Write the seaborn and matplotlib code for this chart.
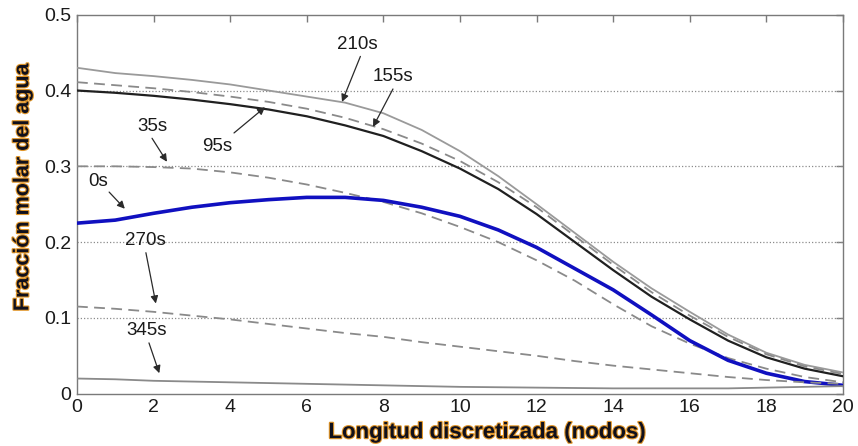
import numpy as np
import pandas as pd
import matplotlib
matplotlib.use("Agg")
import matplotlib.pyplot as plt
import matplotlib.patheffects as pe
import seaborn as sns

nodes = list(range(21))
y_210s = [0.430, 0.423, 0.419, 0.414, 0.408, 0.400, 0.392, 0.384, 0.370, 0.348, 0.320,
          0.287, 0.250, 0.212, 0.174, 0.139, 0.108, 0.078, 0.054, 0.038, 0.028]
y_155s = [0.411, 0.407, 0.403, 0.398, 0.392, 0.385, 0.376, 0.364, 0.349, 0.330, 0.307,
          0.279, 0.246, 0.208, 0.170, 0.134, 0.103, 0.075, 0.052, 0.036, 0.026]
y_95s = [0.400, 0.397, 0.393, 0.388, 0.382, 0.375, 0.366, 0.354, 0.340, 0.320, 0.297,
         0.270, 0.237, 0.200, 0.163, 0.128, 0.098, 0.070, 0.048, 0.033, 0.023]
y_35s = [0.300, 0.300, 0.299, 0.297, 0.292, 0.285, 0.276, 0.265, 0.253, 0.238, 0.220,
         0.200, 0.176, 0.149, 0.118, 0.089, 0.066, 0.047, 0.033, 0.022, 0.015]
y_0s = [0.225, 0.229, 0.238, 0.246, 0.252, 0.256, 0.259, 0.259, 0.255, 0.246, 0.234,
        0.216, 0.193, 0.165, 0.137, 0.104, 0.070, 0.044, 0.027, 0.016, 0.011]
y_270s = [0.115, 0.112, 0.108, 0.103, 0.098, 0.092, 0.086, 0.080, 0.075, 0.068, 0.062,
          0.056, 0.050, 0.043, 0.037, 0.032, 0.027, 0.022, 0.018, 0.015, 0.013]
y_345s = [0.020, 0.019, 0.017, 0.016, 0.015, 0.014, 0.013, 0.012, 0.011, 0.010, 0.009,
          0.0085, 0.008, 0.0075, 0.007, 0.007, 0.007, 0.007, 0.008, 0.009, 0.010]

series_names = ["210s", "155s", "95s", "35s", "0s", "270s", "345s"]
series_values = [y_210s, y_155s, y_95s, y_35s, y_0s, y_270s, y_345s]

x_ticks = [0, 2, 4, 6, 8, 10, 12, 14, 16, 18, 20]
y_ticks = [0, 0.1, 0.2, 0.3, 0.4, 0.5]
y_tick_labels = ["0", "0.1", "0.2", "0.3", "0.4", "0.5"]

# annotation: label, text pos, arrow tail, arrow head (data coords)
annots = [
    ("210s", (7.31, 0.461), (7.40, 0.445), (6.92, 0.385)),
    ("155s", (8.25, 0.418), (8.25, 0.402), (7.73, 0.352)),
    ("95s", (3.66, 0.326), (4.10, 0.344), (4.91, 0.378)),
    ("35s", (1.96, 0.352), (1.96, 0.337), (2.35, 0.306)),
    ("0s", (0.55, 0.280), (0.84, 0.266), (1.25, 0.244)),
    ("270s", (1.78, 0.2015), (1.80, 0.186), (2.06, 0.119)),
    ("345s", (1.83, 0.083), (1.88, 0.067), (2.15, 0.027)),
]

styles = {
    "210s": dict(color="#9a9a9a", lw=1.3, ls="-"),
    "155s": dict(color="#8a8a8a", lw=1.3, ls=(0, (6, 3.5))),
    "95s": dict(color="#202020", lw=1.6, ls="-"),
    "35s": dict(color="#8a8a8a", lw=1.3, ls=(0, (6, 3.5))),
    "0s": dict(color="#1010c0", lw=2.6, ls="-"),
    "270s": dict(color="#8a8a8a", lw=1.3, ls=(0, (6, 3.5))),
    "345s": dict(color="#8a8a8a", lw=1.3, ls="-"),
}

df = pd.DataFrame({
    "nodo": np.tile(nodes, len(series_names)),
    "fraccion": np.concatenate(series_values),
    "serie": np.repeat(series_names, len(nodes)),
})

sns.set_style("white")
plt.rcParams["font.family"] = ["Liberation Sans", "DejaVu Sans"]

fig = plt.figure(figsize=(8.58, 4.46), dpi=100)
ax = fig.add_axes([0.0897, 0.1173, 0.8928, 0.8497])

for name in series_names:
    st = styles[name]
    sns.lineplot(data=df[df["serie"] == name], x="nodo", y="fraccion", ax=ax,
                 color=st["color"], linewidth=st["lw"], linestyle=st["ls"],
                 legend=False, zorder=3)

ax.set_xlim(0, 20)
ax.set_ylim(0, 0.5)
ax.set_xticks(x_ticks)
ax.set_xticklabels([str(t) for t in x_ticks])
ax.set_yticks(y_ticks)
ax.set_yticklabels(y_tick_labels)

for yv in y_ticks[1:-1]:
    ax.axhline(yv, color="#8c8c8c", lw=0.9, ls=(0, (1, 1.6)), zorder=1)

for s in ax.spines.values():
    s.set_visible(True)
    s.set_color("#7a7a7a")
    s.set_linewidth(1.0)

ax.tick_params(axis="both", direction="in", length=5, width=1.0, color="#7a7a7a",
               top=True, right=True, labelsize=14, labelcolor="#1a1a1a", pad=4)

for label, tpos, tail, head in annots:
    ax.text(tpos[0], tpos[1], label, fontsize=13.5, color="#1a1a1a",
            ha="center", va="center", zorder=5)
    ax.annotate("", xy=head, xytext=tail,
                arrowprops=dict(arrowstyle="-|>", color="#2a2a2a", lw=0.9,
                                mutation_scale=11, shrinkA=0, shrinkB=0),
                zorder=5)

glow = [pe.withStroke(linewidth=1.6, foreground="#e0962a")]
ax.set_xlabel("Longitud discretizada (nodos)", fontsize=16, fontweight="bold",
              color="#10101c", labelpad=-2, path_effects=glow)
ax.xaxis.set_label_coords(0.535, -0.075)
ax.set_ylabel("Fracción molar del agua", fontsize=15.5, fontweight="bold",
              color="#10101c", path_effects=glow)
ax.yaxis.set_label_coords(-0.057, 0.545)

fig.savefig("out.png", dpi=100)
